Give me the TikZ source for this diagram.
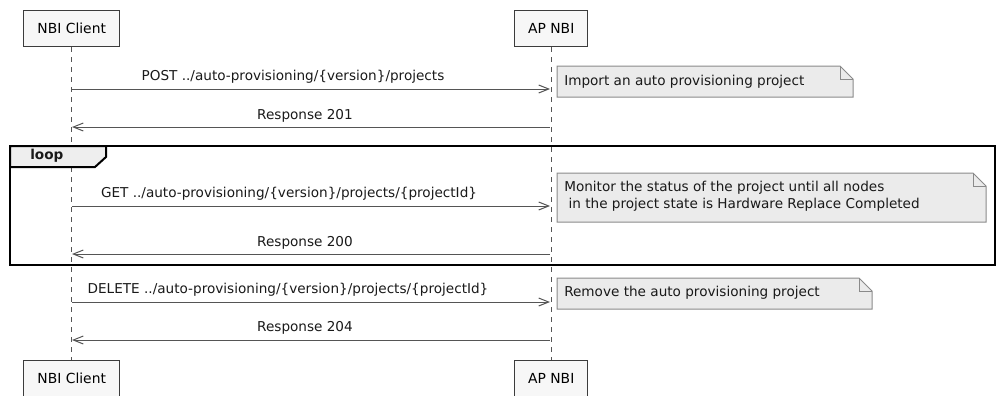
\documentclass[tikz,border=0pt]{standalone}
\usepackage{fontspec}
\setmainfont{DejaVu Sans}
\usetikzlibrary{arrows.meta}
\definecolor{boxfill}{HTML}{F7F7F7}
\definecolor{boxline}{HTML}{3C3C3C}
\definecolor{notefill}{HTML}{EBEBEB}
\definecolor{noteline}{HTML}{8A8A8A}
\definecolor{msgline}{HTML}{555555}
\definecolor{tabfill}{HTML}{EEEEEE}
\tikzset{
  actor/.style={draw=boxline, fill=boxfill, line width=1.1pt, minimum height=27pt, inner xsep=5pt, font=\fontsize{10.4}{12}\selectfont},
  life/.style={draw=msgline, line width=0.75pt, dash pattern=on 3.75pt off 3.75pt},
  msg/.style={draw=msgline, line width=0.75pt, -{Straight Barb[length=7.5pt,width=6pt,line width=0.75pt]}},
  lbl/.style={font=\fontsize{10.2}{12}\selectfont, inner sep=0pt, text=black!90},
  notebox/.style={draw=noteline, fill=notefill, line width=0.75pt},
  notetext/.style={font=\fontsize{10.2}{12.4}\selectfont, inner sep=0pt, anchor=north west, align=left, text=black!90},
}
\begin{document}
\begin{tikzpicture}[x=0.75pt,y=-0.75pt]
\useasboundingbox (0,0) rectangle (1000,396);
% actors
\node[actor, anchor=north west, minimum width=72pt] (c1) at (23,10) {NBI Client};
\node[actor, anchor=north west, minimum width=54.75pt] (a1) at (514,10) {AP NBI};
\node[actor, anchor=north west, minimum width=72pt] (c2) at (23,360) {NBI Client};
\node[actor, anchor=north west, minimum width=54.75pt] (a2) at (514,360) {AP NBI};
% lifelines
\draw[life] (c1.south) -- (c2.north);
\draw[life] (a1.south) -- (a2.north);
% loop frame
\draw[line width=1.5pt, fill=tabfill] (10,146) -- (106,146) -- (106,157) -- (95,167) -- (10,167) -- cycle;
\draw[line width=1.5pt] (10,146) rectangle (995,265);
\node[lbl, font=\fontsize{10.2}{12}\selectfont\bfseries, anchor=west] (loop) at (30,156) {loop};
% message coordinates
\coordinate (c_post) at (72,89);   \coordinate (a_post) at (550,89);
\coordinate (c_r201) at (72,127);  \coordinate (a_r201) at (550,127);
\coordinate (c_get) at (72,206);   \coordinate (a_get) at (550,206);
\coordinate (c_r200) at (72,254);  \coordinate (a_r200) at (550,254);
\coordinate (c_del) at (72,302);   \coordinate (a_del) at (550,302);
\coordinate (c_r204) at (72,340);  \coordinate (a_r204) at (550,340);
% messages
\draw[msg] (c_post) -- (a_post);
\node[lbl] (l1) at (293,77) {POST ../auto-provisioning/\{version\}/projects};
\draw[msg] (a_r201) -- (c_r201);
\node[lbl] (l2) at (305,116) {Response 201};
\draw[msg] (c_get) -- (a_get);
\node[lbl] (l3) at (289,194) {GET ../auto-provisioning/\{version\}/projects/\{projectId\}};
\draw[msg] (a_r200) -- (c_r200);
\node[lbl] (l4) at (305,243) {Response 200};
\draw[msg] (c_del) -- (a_del);
\node[lbl] (l5) at (288,290) {DELETE ../auto-provisioning/\{version\}/projects/\{projectId\}};
\draw[msg] (a_r204) -- (c_r204);
\node[lbl] (l6) at (305,328) {Response 204};
% notes
\draw[notebox] (557,66) -- (840,66) -- (853,79) -- (853,97) -- (557,97) -- cycle;
\draw[noteline, line width=0.75pt] (840,66) -- (840,79) -- (853,79);
\node[notetext] (n1) at (564,75) {Import an auto provisioning project};
\draw[notebox] (557,173) -- (973,173) -- (986,186) -- (986,222) -- (557,222) -- cycle;
\draw[noteline, line width=0.75pt] (973,173) -- (973,186) -- (986,186);
\node[notetext] (n2) at (564,181) {Monitor the status of the project until all nodes\\\ in the project state is Hardware Replace Completed};
\draw[notebox] (557,278) -- (859,278) -- (872,291) -- (872,309) -- (557,309) -- cycle;
\draw[noteline, line width=0.75pt] (859,278) -- (859,291) -- (872,291);
\node[notetext] (n3) at (564,286) {Remove the auto provisioning project};
\end{tikzpicture}
\end{document}
